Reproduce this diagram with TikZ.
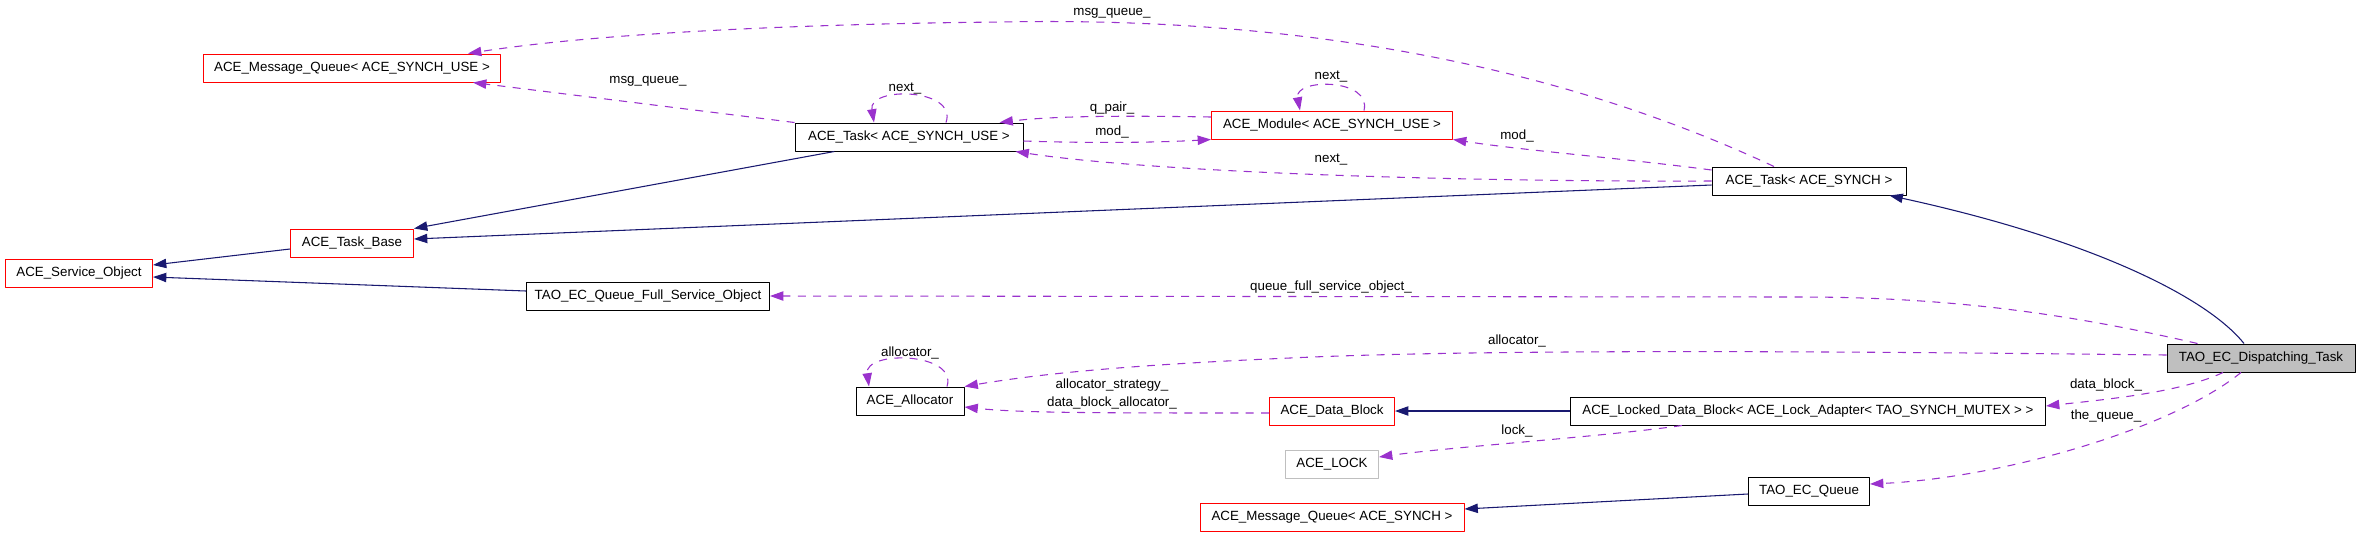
\documentclass[tikz,border=0pt]{standalone}
\usepackage{fontspec}
\setmainfont{Liberation Sans}
\usetikzlibrary{arrows.meta}
\definecolor{edgeblue}{RGB}{25,25,112}
\definecolor{edgeorchid}{RGB}{154,50,205}
\definecolor{nodegray}{RGB}{191,191,191}
\begin{document}
\begin{tikzpicture}[x=0.75pt,y=-0.75pt,line join=round,
    cls/.style={draw=black,line width=0.75pt,fill=white,minimum height=21pt,
      inner sep=0pt,font=\fontsize{10}{12}\selectfont},
    redcls/.style={cls,draw=red},
    wd/.style={minimum width=#1*0.75pt},
    inh/.style={draw=edgeblue,line width=0.8pt,-{Triangle[length=10pt,width=7pt]}},
    use/.style={draw=edgeorchid,line width=0.8pt,dash pattern=on 6pt off 5.5pt,
      -{Triangle[length=10pt,width=7pt]}},
    lbl/.style={inner sep=0pt,font=\fontsize{10}{12}\selectfont}]
  \useasboundingbox (0,0) rectangle (2357,537);

  % classes
  \node[redcls,wd=297] (MQUse) at (352,68) {ACE\_Message\_Queue< ACE\_SYNCH\_USE >};
  \node[redcls,wd=123] (TaskBase) at (352,243) {ACE\_Task\_Base};
  \node[redcls,wd=147] (ServObj) at (79,273) {ACE\_Service\_Object};
  \node[cls,wd=243] (QueueFull) at (648,296) {TAO\_EC\_Queue\_Full\_Service\_Object};
  \node[cls,wd=228] (TaskUse) at (909,137) {ACE\_Task< ACE\_SYNCH\_USE >};
  \node[redcls,wd=241] (Module) at (1332,125) {ACE\_Module< ACE\_SYNCH\_USE >};
  \node[cls,wd=194] (TaskSynch) at (1809,181) {ACE\_Task< ACE\_SYNCH >};
  \node[cls,wd=108] (Allocator) at (910,401) {ACE\_Allocator};
  \node[redcls,wd=125] (DataBlock) at (1332,411) {ACE\_Data\_Block};
  \node[cls,draw=nodegray,wd=93] (Lock) at (1332,464) {ACE\_LOCK};
  \node[redcls,wd=264] (MQSynch) at (1332,517) {ACE\_Message\_Queue< ACE\_SYNCH >};
  \node[cls,wd=475] (Locked) at (1808,411) {ACE\_Locked\_Data\_Block< ACE\_Lock\_Adapter< TAO\_SYNCH\_MUTEX > >};
  \node[cls,wd=121] (ECQueue) at (1809,491) {TAO\_EC\_Queue};
  \node[cls,fill=nodegray,wd=188] (Dispatch) at (2261,358) {TAO\_EC\_Dispatching\_Task};

  % inheritance
  \draw[inh] ([yshift=-4.5pt]TaskBase.west) -- ([yshift=6pt]ServObj.east);
  \draw[inh] ([yshift=3.75pt]QueueFull.west) -- ([yshift=-3pt]ServObj.east);
  \draw[inh] ([xshift=-56pt]TaskUse.south) -- (TaskBase.north east);
  \draw[inh] ([yshift=-3pt]TaskSynch.west) -- ([yshift=3pt]TaskBase.east);
  \draw[inh] ([xshift=-12.75pt]Dispatch.north) .. controls (2205,295) and (2085,238) .. ([xshift=-12.75pt]TaskSynch.south east);
  \draw[inh] (Locked.west) -- (DataBlock.east);
  \draw[inh] ([yshift=-2.25pt]ECQueue.west) -- ([yshift=6pt]MQSynch.east);

  % members
  \draw[use] ([xshift=-26.25pt]TaskSynch.north) .. controls (1600,85) and (1350,15) .. (1000,22)
    .. controls (800,24) and (600,33) .. ([xshift=-24.75pt]MQUse.north east);
  \draw[use] (TaskUse.north west) -- ([xshift=-21pt]MQUse.south east);
  \draw[use] ([xshift=27.75pt]TaskUse.north) .. controls (958,88) and (868,86) .. ([xshift=-26.25pt]TaskUse.north);
  \draw[use] ([yshift=6pt]Module.west) .. controls (1150,116) and (1060,115) .. ([xshift=-18pt]TaskUse.north east);
  \draw[use] ([yshift=-3pt]TaskUse.east) .. controls (1080,143) and (1150,143) .. (Module.south west);
  \draw[use] ([xshift=24pt]Module.north) .. controls (1372,78) and (1294,78) .. ([xshift=-24pt]Module.north);
  \draw[use] ([yshift=8.25pt]TaskSynch.west) .. controls (1620,158) and (1520,150) .. (Module.south east);
  \draw[use] (TaskSynch.west) .. controls (1450,182) and (1150,172) .. ([xshift=-6pt]TaskUse.south east);
  \draw[use] ([xshift=23.25pt]Dispatch.north west) .. controls (2070,314) and (1950,297) .. (1800,297) -- (QueueFull.east);
  \draw[use] ([yshift=2.25pt]Dispatch.west) .. controls (1900,352) and (1500,348) .. (1290,358)
    .. controls (1150,364) and (1050,372) .. (Allocator.north east);
  \draw[use] ([xshift=27.75pt]Allocator.north) .. controls (958,352) and (864,350) .. ([xshift=-30.75pt]Allocator.north);
  \draw[use] ([yshift=-1.5pt]DataBlock.west) .. controls (1100,413) and (1020,413) .. ([yshift=-4.5pt]Allocator.east);
  \draw[use] ([xshift=-94.5pt]Locked.south) .. controls (1600,437) and (1450,447) .. ([yshift=5.25pt]Lock.east);
  \draw[use] ([xshift=-28.5pt]Dispatch.south) .. controls (2180,393) and (2100,400) .. ([yshift=3.75pt]Locked.east);
  \draw[use] ([xshift=-15pt]Dispatch.south) .. controls (2170,430) and (2000,478) .. ([yshift=5.25pt]ECQueue.east);

  % labels
  \node[lbl] (lMsgTop) at (1112,13) {msg\_queue\_};
  \node[lbl] (lMsgLow) at (648,81) {msg\_queue\_};
  \node[lbl] (lNextUse) at (905,89) {next\_};
  \node[lbl] (lQPair) at (1112,108) {q\_pair\_};
  \node[lbl] (lModMid) at (1112,132) {mod\_};
  \node[lbl] (lNextMod) at (1331,77) {next\_};
  \node[lbl] (lModRight) at (1517,136) {mod\_};
  \node[lbl] (lNextLow) at (1331,160) {next\_};
  \node[lbl] (lQueueFull) at (1331,287) {queue\_full\_service\_object\_};
  \node[lbl] (lAllocLoop) at (910,353) {allocator\_};
  \node[lbl] (lAlloc) at (1517,341) {allocator\_};
  \node[lbl] (lAllocStrat) at (1112,385) {allocator\_strategy\_};
  \node[lbl] (lDBAlloc) at (1112,403) {data\_block\_allocator\_};
  \node[lbl] (lLock) at (1517,431) {lock\_};
  \node[lbl] (lDataBlock) at (2106,385) {data\_block\_};
  \node[lbl] (lTheQueue) at (2106,416) {the\_queue\_};
\end{tikzpicture}
\end{document}
